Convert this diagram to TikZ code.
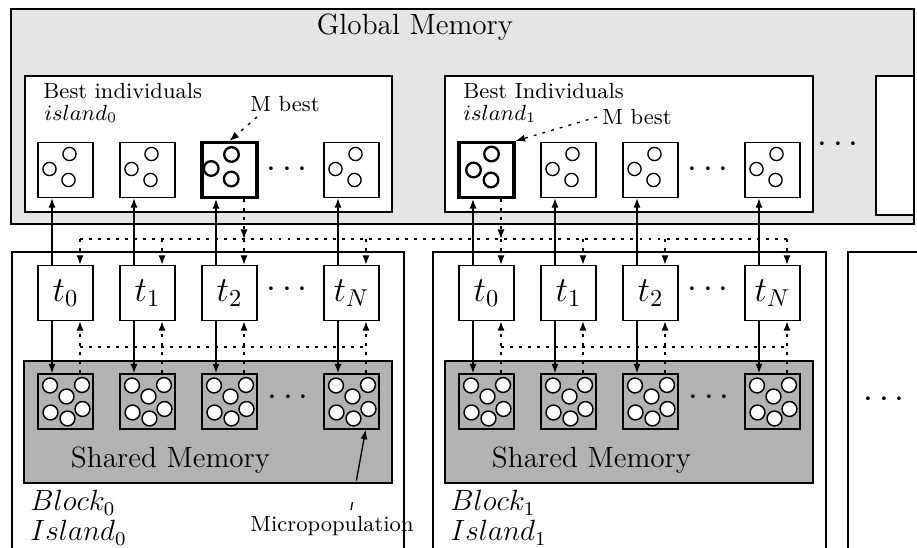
\documentclass[tikz,border=0pt]{standalone}
\usetikzlibrary{arrows.meta,calc}
\newcommand{\thrfont}{\fontsize{14}{16}\selectfont}
\begin{document}
\begin{tikzpicture}[x=0.41pt,y=0.41pt,
  >={Latex[length=3.9pt,width=2.9pt]},
  ln/.style={line width=0.55pt},
  box/.style={draw, fill=white, line width=0.55pt, minimum width=22.55pt, minimum height=22.55pt, inner sep=0pt},
  boldbox/.style={box, line width=1.25pt},
  popbox/.style={box, fill=none},
  sol/.style={line width=0.55pt,->},
  dotl/.style={line width=0.55pt, dash pattern=on 1.2pt off 2.5pt},
  dotarr/.style={dotl,->},
  dasharr/.style={line width=0.55pt, dash pattern=on 3.3pt off 9pt on 25pt off 9pt,->},
  pop/.style={draw, fill=white, line width=0.6pt},
  ind/.style={draw, line width=0.55pt},
  bind/.style={draw, line width=0.95pt},
  lbl/.style={anchor=west, inner sep=0pt},
  dots/.style={font=\Large},
]
\useasboundingbox (0,0) rectangle (917,-548);
% global memory
\draw[ln, fill=gray!20] (11,-9) rectangle (914,-224);
\node[font=\large] (gm) at (415,-27) {Global Memory};
\draw[ln, fill=white] (25,-76) rectangle (392,-212);
\draw[ln, fill=white] (445,-76) rectangle (813,-212);
\draw[ln, fill=white] (876,-76) rectangle (914,-215);
\node[dots] (gdots) at (838,-145) {$\cdots$};
% blocks
\draw[ln] (12,-560) -- (12,-252) -- (404,-252) -- (404,-560);
\draw[ln] (433,-560) -- (433,-252) -- (826,-252) -- (826,-560);
\draw[ln] (848,-560) -- (848,-252) -- (930,-252);
% shared memory
\draw[ln, fill=gray!60] (24,-361) rectangle (392,-483);
\draw[ln, fill=gray!60] (445,-361) rectangle (813,-483);
\node[font=\large] (sm0) at (170.5,-460) {Shared Memory};
\node[font=\large] (sm1) at (591.5,-460) {Shared Memory};
% labels
\node[lbl,font=\small] (bi0) at (43,-91) {Best individuals};
\node[lbl,font=\small] (is0) at (44,-114) {$island_0$};
\node[lbl,font=\small] (mbl0) at (250,-104) {M best};
\node[lbl,font=\small] (bi1) at (463,-91) {Best Individuals};
\node[lbl,font=\small] (is1) at (463,-114) {$island_1$};
\node[lbl,font=\small] (mbl1) at (602,-117) {M best};
\node[lbl,font=\large] (bl0) at (30,-503) {$Block_0$};
\node[lbl,font=\large] (il0) at (30,-533) {$Island_0$};
\node[lbl,font=\large] (bl1) at (450,-503) {$Block_1$};
\node[lbl,font=\large] (il1) at (450,-533) {$Island_1$};
\node[lbl,font=\small] (micl) at (250,-526) {Micropopulation};
\node[dots] (bdots) at (884,-400) {$\cdots$};
% columns
\foreach \b/\c/\x/\lab/\st in {0/0/65.5/0/box, 0/1/147.5/1/box, 0/2/229.5/2/boldbox, 0/3/351.5/N/box,
                               1/0/486.5/0/boldbox, 1/1/568.5/1/box, 1/2/650.5/2/box, 1/3/772.5/N/box}{
  \node[\st] (b\b\c) at (\x,-170) {};
  \node[box,font=\thrfont] (t\b\c) at (\x,-293) {$t_{\lab}$};
  \node[popbox] (m\b\c) at (\x,-401.5) {};
  \foreach \dx/\dy in {-15.5/16, 16.5/16.5, 1/5, -15/-11, 17/-7.5, 2/-17}
    \draw[pop] ($(m\b\c)+(\dx,\dy)$) circle[radius=3.05pt];
  \draw[sol] ($(t\b\c.north)+(-13.5,0)$) coordinate (u\b\c) -- (u\b\c |- b\b\c.south);
  \draw[sol] ($(t\b\c.south)+(-13.5,0)$) coordinate (d\b\c) -- (d\b\c |- m\b\c.north);
  \draw[dotarr] ($(m\b\c.north)+(14.5,0)$) coordinate (p\b\c) -- (p\b\c |- t\b\c.south);
  \path ($(t\b\c.north)+(14.5,0)$) coordinate (q\b\c);
}
% regular best-box circles
\foreach \n in {b00,b01,b03,b11,b12,b13}
  \foreach \dx/\dy in {-16/1, 4/16, 3/-10}
    \draw[ind] ($(\n)+(\dx,\dy)$) circle[radius=2.7pt];
\foreach \dx/\dy in {-18.3/1.5, 2/15.5, 1.7/-9}
  \draw[bind] ($(b02)+(\dx,\dy)$) circle[radius=3pt];
\foreach \dx/\dy in {-13/0, 5/16, 4.5/-10}
  \draw[bind] ($(b10)+(\dx,\dy)$) circle[radius=3pt];
% dots in rows
\foreach \o/\k in {0/0,421/1}{
  \node[dots] (rd\k) at (287+\o,-170) {$\cdots$};
  \node[dots] (td\k) at (287+\o,-290) {$\cdots$};
  \node[dots] (md\k) at (288+\o,-398) {$\cdots$};
}
% buses
\coordinate (bus) at (0,-239);
\coordinate (lb) at (0,-347);
\draw[dotl] (q00 |- bus) -- (q13 |- bus);
\draw[dotl] (p00 |- lb) -- (p03 |- lb);
\draw[dotl] (p10 |- lb) -- (p13 |- lb);
\foreach \n in {00,01,02,03,10,11,12,13}
  \draw[dotarr] (q\n |- bus) -- (q\n);
% M best down links
\draw[dotarr] ($(b02.south)+(14.5,0)$) coordinate (mb0) -- (mb0 |- bus);
\draw[dotarr] ($(b10.south)+(14.5,0)$) coordinate (mb1) -- (mb1 |- bus);
% M best pointers
\coordinate (mbs0) at (257,-117);
\draw[dotarr] (mbs0) -- (b02.north);
\draw[dotarr] ([xshift=-2pt]mbl1.west) -- (b10.north east);
% micropopulation pointer
\coordinate (mics) at (351,-510);
\draw[dasharr] (mics) -- ($(m03.south east)+(-14,0)$);
\end{tikzpicture}
\end{document}
